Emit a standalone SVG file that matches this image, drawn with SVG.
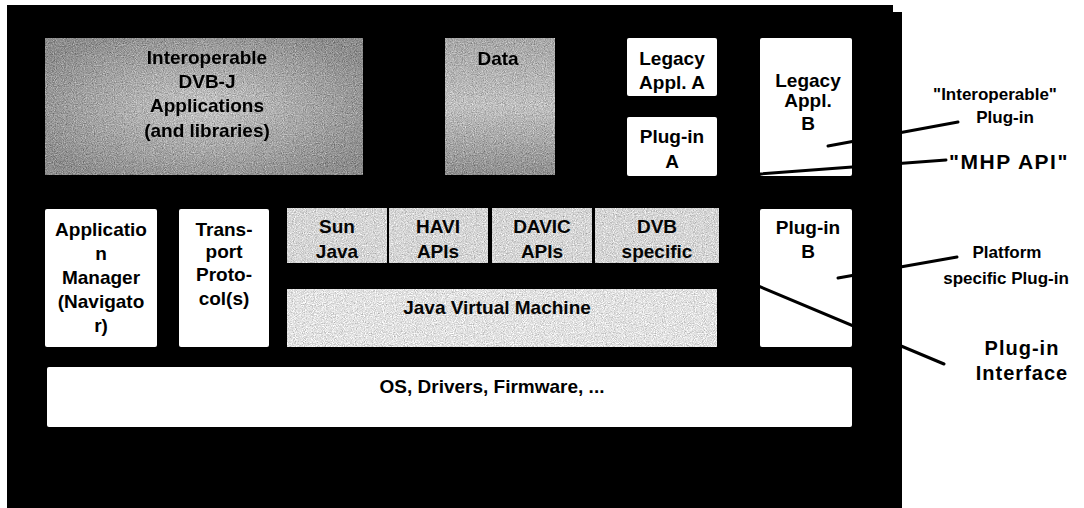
<svg xmlns="http://www.w3.org/2000/svg" width="1084" height="508" viewBox="0 0 1084 508">
  <defs>
    <style>
      .box { fill: #ffffff; }
      .t { font-family: "Liberation Sans", Arial, sans-serif; font-weight: bold; font-size: 19px; fill: #000; text-anchor: middle; }
      .dim { fill: #050505; }
      .lbl { font-family: "Liberation Sans", Arial, sans-serif; font-weight: bold; font-size: 17px; fill: #000; text-anchor: middle; }
      .big { font-size: 20px; letter-spacing: 1px; }
      .api { font-size: 21px; letter-spacing: 1.5px; }
      .conn { stroke: #000; stroke-width: 3; fill: none; stroke-linecap: round; }
    </style>
    <radialGradient id="greyDark" cx="0.5" cy="0.5" r="0.6">
      <stop offset="0" stop-color="#c4c4c4"/>
      <stop offset="1" stop-color="#8e8e8e"/>
    </radialGradient>
    <linearGradient id="greyData" x1="0" y1="0" x2="0" y2="1">
      <stop offset="0" stop-color="#a8a8a8"/>
      <stop offset="0.5" stop-color="#c0c0c0"/>
      <stop offset="1" stop-color="#909090"/>
    </linearGradient>
    <!-- halftone-like grain for the shaded layers -->
    <filter id="grain" x="0" y="0" width="1" height="1" color-interpolation-filters="sRGB">
      <feTurbulence type="fractalNoise" baseFrequency="0.9" numOctaves="2" seed="7" result="noise"/>
      <feColorMatrix in="noise" type="matrix" values="0.33 0.33 0.33 0 0  0.33 0.33 0.33 0 0  0.33 0.33 0.33 0 0  0 0 0 0 1" result="grey"/>
      <feComposite in="SourceGraphic" in2="grey" operator="arithmetic" k1="0" k2="1" k3="0.9" k4="-0.45" result="mix"/>
      <feComposite in="mix" in2="SourceAlpha" operator="in"/>
    </filter>
    <filter id="soft" x="-5%" y="-20%" width="110%" height="140%">
      <feGaussianBlur stdDeviation="0.6"/>
    </filter>
  </defs>

  <rect width="1084" height="508" fill="#ffffff"/>

  <!-- platform frame -->
  <path id="frame" d="M7,5 H893 V12 H902 V508 H7 Z" fill="#000"/>

  <!-- application layer -->
  <g id="dvbj-apps">
    <rect x="45" y="38" width="318" height="137" fill="url(#greyDark)" filter="url(#grain)"/>
    <g filter="url(#soft)">
      <text class="t dim" x="207" y="64">Interoperable</text>
      <text class="t dim" x="207" y="88">DVB-J</text>
      <text class="t dim" x="207" y="112">Applications</text>
      <text class="t dim" x="207" y="137">(and libraries)</text>
    </g>
  </g>

  <g id="data">
    <rect x="445" y="38" width="110" height="137" fill="url(#greyData)" filter="url(#grain)"/>
    <text class="t dim" x="498" y="65" filter="url(#soft)">Data</text>
  </g>

  <g id="legacy-a">
    <rect class="box" x="627" y="38" width="90" height="58" rx="2"/>
    <text class="t" x="672" y="65">Legacy</text>
    <text class="t" x="672" y="89">Appl. A</text>
  </g>

  <g id="plugin-a">
    <rect class="box" x="627" y="117" width="90" height="59" rx="2"/>
    <text class="t" x="672" y="143">Plug-in</text>
    <text class="t" x="672" y="168">A</text>
  </g>

  <g id="legacy-b">
    <rect class="box" x="760" y="38" width="92" height="138" rx="2"/>
    <text class="t" x="808" y="87">Legacy</text>
    <text class="t" x="808" y="107">Appl.</text>
    <text class="t" x="808" y="130">B</text>
  </g>

  <!-- middleware layer -->
  <g id="app-manager">
    <rect class="box" x="45" y="209" width="112" height="138" rx="2"/>
    <text class="t" x="101" y="236">Applicatio</text>
    <text class="t" x="101" y="260">n</text>
    <text class="t" x="101" y="284">Manager</text>
    <text class="t" x="101" y="308">(Navigato</text>
    <text class="t" x="101" y="332">r)</text>
  </g>

  <g id="transport">
    <rect class="box" x="179" y="209" width="90" height="138" rx="2"/>
    <text class="t" x="224" y="236">Trans-</text>
    <text class="t" x="224" y="258">port</text>
    <text class="t" x="224" y="281">Proto-</text>
    <text class="t" x="224" y="305">col(s)</text>
  </g>

  <g id="sun-java">
    <rect x="287" y="208" width="100" height="55" fill="#d6d6d6" filter="url(#grain)"/>
    <text class="t dim" x="337" y="233">Sun</text>
    <text class="t dim" x="337" y="258">Java</text>
  </g>

  <g id="havi">
    <rect x="389" y="208" width="99" height="55" fill="#d6d6d6" filter="url(#grain)"/>
    <text class="t dim" x="438" y="233">HAVI</text>
    <text class="t dim" x="438" y="258">APIs</text>
  </g>

  <g id="davic">
    <rect x="492" y="208" width="100" height="55" fill="#d6d6d6" filter="url(#grain)"/>
    <text class="t dim" x="542" y="233">DAVIC</text>
    <text class="t dim" x="542" y="258">APIs</text>
  </g>

  <g id="dvb-specific">
    <rect x="595" y="208" width="124" height="55" fill="#d6d6d6" filter="url(#grain)"/>
    <text class="t dim" x="657" y="233">DVB</text>
    <text class="t dim" x="657" y="258">specific</text>
  </g>

  <g id="jvm">
    <rect x="287" y="289" width="430" height="58" fill="#e2e2e2" filter="url(#grain)"/>
    <text class="t dim" x="497" y="314">Java Virtual Machine</text>
  </g>

  <g id="plugin-b">
    <rect class="box" x="760" y="209" width="92" height="138" rx="2"/>
    <text class="t" x="808" y="234">Plug-in</text>
    <text class="t" x="808" y="258">B</text>
  </g>

  <!-- system layer -->
  <g id="os">
    <rect class="box" x="47" y="367" width="805" height="60" rx="2"/>
    <text class="t" x="492" y="393">OS, Drivers, Firmware, ...</text>
  </g>

  <!-- callout lines -->
  <g id="connectors">
    <line class="conn" x1="828" y1="146" x2="958" y2="122"/>
    <line class="conn" x1="760" y1="174" x2="946" y2="160"/>
    <line class="conn" x1="838" y1="278" x2="957" y2="257"/>
    <line class="conn" x1="720" y1="270" x2="944" y2="364"/>
  </g>

  <!-- callout labels -->
  <g id="label-interoperable">
    <text class="lbl" x="995" y="100">"Interoperable"</text>
    <text class="lbl" x="1005" y="123">Plug-in</text>
  </g>
  <g id="label-mhp-api">
    <text class="lbl api" x="1009" y="169">"MHP API"</text>
  </g>
  <g id="label-platform">
    <text class="lbl" x="1007" y="258">Platform</text>
    <text class="lbl" x="1006" y="284">specific Plug-in</text>
  </g>
  <g id="label-interface">
    <text class="lbl big" x="1022" y="355">Plug-in</text>
    <text class="lbl big" x="1022" y="380">Interface</text>
  </g>
</svg>
